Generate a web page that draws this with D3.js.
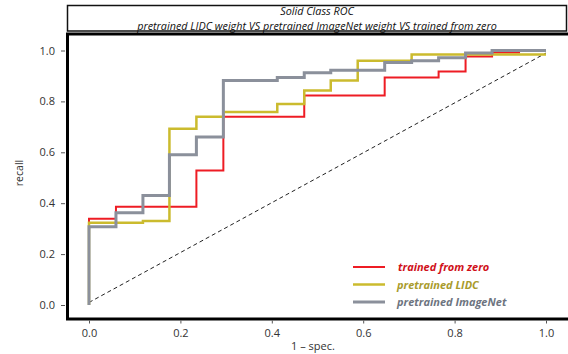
<!DOCTYPE html>
<html>
<head>
<meta charset="utf-8">
<script src="https://cdn.jsdelivr.net/npm/d3@7"></script>
<style>
  body { margin: 0; background: #fff; }
  text { font-family: "Open Sans", "Liberation Sans", sans-serif; }
</style>
</head>
<body>
<div id="chart"></div>
<script>
// ROC corner points (fpr, tpr), drawn as step-after lines
var zeroFpr = [0, 0, 0.059, 0.235, 0.294, 0.471, 0.647, 0.765, 0.824, 0.882, 0.941, 1];
var zeroTpr = [0, 0.339, 0.386, 0.528, 0.74, 0.823, 0.894, 0.917, 0.976, 0.992, 1.0, 1.0];

var lidcFpr = [0, 0, 0.118, 0.176, 0.235, 0.294, 0.412, 0.471, 0.529, 0.588, 0.706, 1];
var lidcTpr = [0, 0.323, 0.33, 0.693, 0.74, 0.758, 0.79, 0.843, 0.882, 0.96, 0.984, 0.984];

var imnetFpr = [0, 0, 0.059, 0.118, 0.176, 0.235, 0.294, 0.412, 0.471, 0.529, 0.647, 0.706, 0.765, 0.824, 0.882, 1];
var imnetTpr = [0, 0.307, 0.362, 0.43, 0.59, 0.66, 0.882, 0.894, 0.913, 0.922, 0.953, 0.96, 0.972, 0.99, 1.0, 1.0];

var diagFpr = [0, 1];
var diagTpr = [0.01, 0.99];

var seriesNames = ["trained from zero", "pretrained LIDC", "pretrained ImageNet"];
var tickValues = [0, 0.2, 0.4, 0.6, 0.8, 1.0];

var svg = d3.select("#chart").append("svg")
	.attr("width", 568)
	.attr("height", 354);

var x = d3.scaleLinear().domain([0, 1]).range([89, 546]);
var y = d3.scaleLinear().domain([0, 1]).range([305, 50.5]);

// title box
svg.append("rect")
	.attr("x", 67.5).attr("y", 5.5)
	.attr("width", 499).attr("height", 25.5)
	.attr("fill", "none").attr("stroke", "#111").attr("stroke-width", 1.5);

svg.append("text")
	.attr("x", 317).attr("y", 15)
	.attr("text-anchor", "middle")
	.style("font-size", "10.8px").style("font-style", "italic")
	.attr("fill", "#111")
	.text("Solid Class ROC");

svg.append("text")
	.attr("x", 317).attr("y", 30)
	.attr("text-anchor", "middle")
	.style("font-size", "10.8px").style("font-style", "italic")
	.attr("fill", "#111")
	.text("pretrained LIDC weight VS pretrained ImageNet weight VS trained from zero");

// plot frame
svg.append("rect")
	.attr("x", 67.5).attr("y", 34)
	.attr("width", 510).attr("height", 285)
	.attr("fill", "none").attr("stroke", "#000").attr("stroke-width", 3);

// axes
var yAxis = d3.axisLeft(y).tickValues(tickValues).tickFormat(d3.format(".1f")).tickSize(4).tickPadding(6);
var gy = svg.append("g").attr("transform", "translate(65,0)").call(yAxis);
gy.select(".domain").remove();

var xAxis = d3.axisBottom(x).tickValues(tickValues).tickFormat(d3.format(".1f")).tickSize(3).tickPadding(6);
var gx = svg.append("g").attr("transform", "translate(0,320.5)").call(xAxis);
gx.select(".domain").remove();

svg.selectAll(".tick text")
	.style("font-size", "11px")
	.style("font-family", "'Open Sans', sans-serif")
	.attr("fill", "#333");
svg.selectAll(".tick line").attr("stroke", "#555");

svg.append("text")
	.attr("transform", "translate(23,173) rotate(-90)")
	.attr("text-anchor", "middle")
	.style("font-size", "10.5px")
	.attr("fill", "#333")
	.text("recall");

svg.append("text")
	.attr("x", 313).attr("y", 350)
	.attr("text-anchor", "middle")
	.style("font-size", "11px")
	.attr("fill", "#333")
	.text("1 \u2013 spec.");

// diagonal
svg.append("path")
	.datum(d3.zip(diagFpr, diagTpr))
	.attr("d", d3.line().x(function (d) { return x(d[0]); }).y(function (d) { return y(d[1]); }))
	.attr("fill", "none").attr("stroke", "#222").attr("stroke-width", 1)
	.attr("stroke-dasharray", "4,3");

// ROC curves
var stepLine = d3.line()
	.x(function (d) { return x(d[0]); })
	.y(function (d) { return y(d[1]); })
	.curve(d3.curveStepAfter);

var curves = [
	{ pts: d3.zip(zeroFpr, zeroTpr), color: "#ee1c24", width: 2 },
	{ pts: d3.zip(lidcFpr, lidcTpr), color: "#cbbb2e", width: 2.5 },
	{ pts: d3.zip(imnetFpr, imnetTpr), color: "#8b909b", width: 3 }
];

curves.forEach(function (c) {
	svg.append("path")
		.datum(c.pts)
		.attr("d", stepLine)
		.attr("fill", "none")
		.attr("stroke", c.color)
		.attr("stroke-width", c.width)
		.attr("stroke-linejoin", "miter");
});

// legend
var legendText = ["#d0101a", "#a99b2c", "#6d7480"];
var legend = svg.append("g");
seriesNames.forEach(function (name, i) {
	var ly = 267 + i * 17.5;
	legend.append("line")
		.attr("x1", 353).attr("x2", 385)
		.attr("y1", ly).attr("y2", ly)
		.attr("stroke", curves[i].color)
		.attr("stroke-width", curves[i].width);
	legend.append("text")
		.attr("x", i == 0 ? 398 : 397).attr("y", ly + 4)
		.style("font-size", "11px").style("font-style", "italic").style("font-weight", "bold")
		.attr("fill", legendText[i])
		.text(name);
});
</script>
</body>
</html>
